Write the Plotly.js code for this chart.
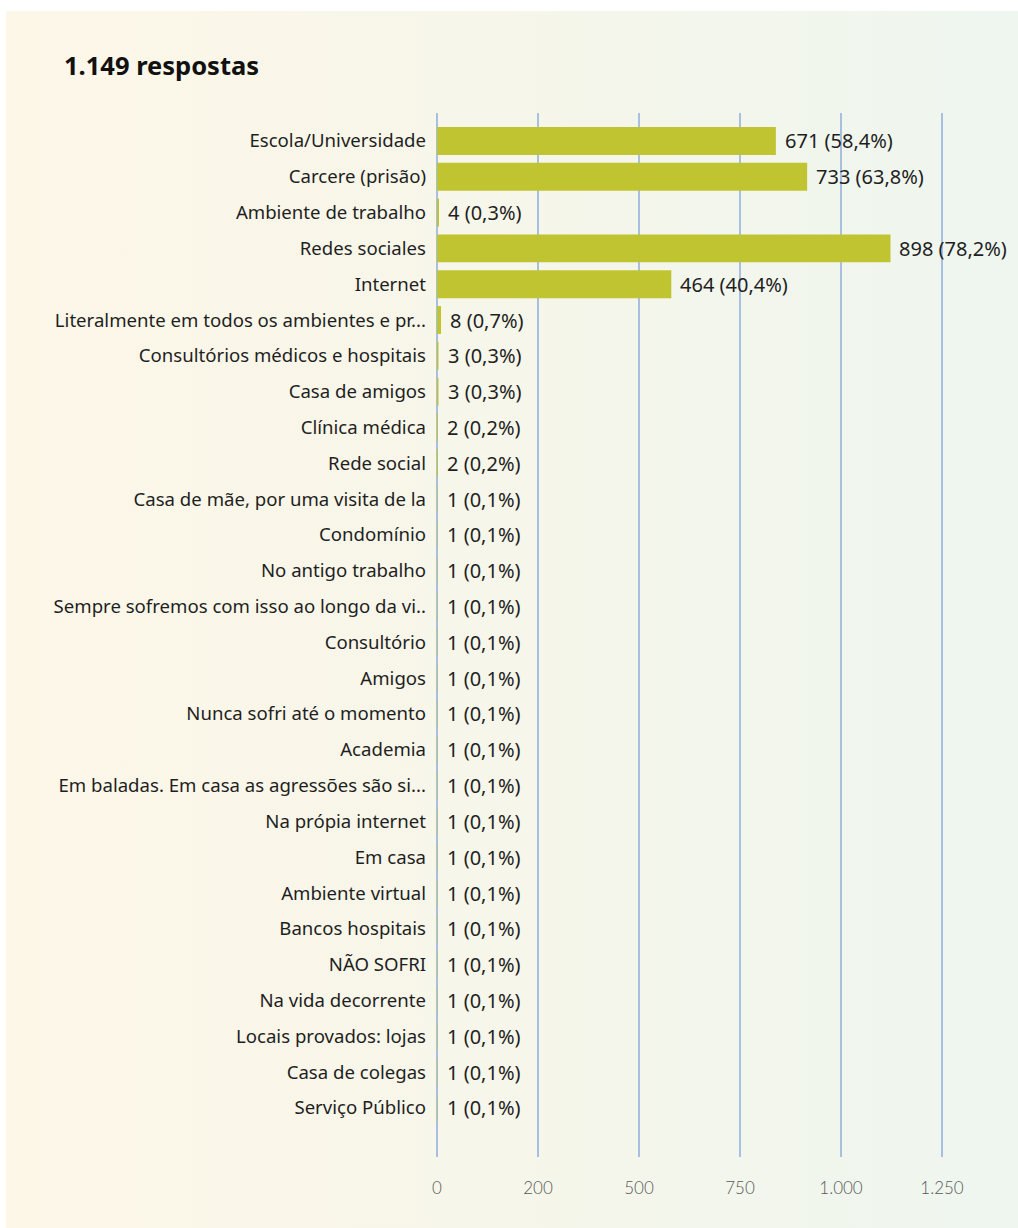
<!DOCTYPE html>
<html>
<head>
<meta charset="utf-8">
<script src="https://cdn.plot.ly/plotly-3.0.1.min.js"></script>
<style>
  html, body { margin: 0; padding: 0; background: #ffffff; }
  #wrap { position: relative; width: 1018px; height: 1228px; overflow: hidden; }
  #bg { position: absolute; left: 6px; top: 11px; right: 0; bottom: 0;
        background: linear-gradient(to right, #fdf7e8 0%, #f6f6ea 50%, #eef6ef 100%); }
  #chart { position: absolute; left: 0; top: 0; width: 1018px; height: 1228px; }
</style>
</head>
<body>
<div id="wrap"><div id="bg"></div><div id="chart"></div></div>
<script>
const categories = [
  "Escola/Universidade",
  "Carcere (prisão)",
  "Ambiente de trabalho",
  "Redes sociales",
  "Internet",
  "Literalmente em todos os ambientes e pr...",
  "Consultórios médicos e hospitais",
  "Casa de amigos",
  "Clínica médica",
  "Rede social",
  "Casa de mãe, por uma visita de la",
  "Condomínio",
  "No antigo trabalho",
  "Sempre sofremos com isso ao longo da vi..",
  "Consultório",
  "Amigos",
  "Nunca sofri até o momento",
  "Academia",
  "Em baladas. Em casa as agressões são si...",
  "Na própia internet",
  "Em casa",
  "Ambiente virtual",
  "Bancos hospitais",
  "NÃO SOFRI",
  "Na vida decorrente",
  "Locais provados: lojas",
  "Casa de colegas",
  "Serviço Público"
];
const counts = [671, 733, 4, 898, 464, 8, 3, 3, 2, 2, 1, 1, 1, 1, 1, 1, 1, 1, 1, 1, 1, 1, 1, 1, 1, 1, 1, 1];
const percents = ["58,4", "63,8", "0,3", "78,2", "40,4", "0,7", "0,3", "0,3", "0,2", "0,2",
  "0,1", "0,1", "0,1", "0,1", "0,1", "0,1", "0,1", "0,1", "0,1", "0,1", "0,1", "0,1", "0,1", "0,1", "0,1", "0,1", "0,1", "0,1"];
const tickValues = [0, 200, 400, 600, 800, 1000];
const tickLabels = ["0", "200", "500", "750", "1.000", "1.250"];
const titleText = "1.149 respostas";

const catFont = { family: "Noto Sans, sans-serif", size: 18.6, color: "#1f1f1f" };
const valFont = { family: "Noto Sans, sans-serif", size: 20, color: "#1f1f1f" };

const annotations = categories.map((c, i) => ({
  x: counts[i], y: c, xref: "x", yref: "y",
  text: counts[i] + " (" + percents[i] + "%)",
  showarrow: false, xanchor: "left", yanchor: "middle",
  xshift: 7, font: valFont
}));

const n = categories.length;
const trace = {
  type: "bar", orientation: "h",
  x: counts, y: categories,
  marker: { color: "#c0c431" },
  hoverinfo: "skip"
};

const layout = {
  width: 1018, height: 1228,
  paper_bgcolor: "rgba(0,0,0,0)",
  plot_bgcolor: "rgba(0,0,0,0)",
  margin: { l: 437, r: 18, t: 113, b: 71 },
  bargap: 0.22,
  showlegend: false,
  title: {
    text: "<b>" + titleText + "</b>",
    xref: "container", yref: "container",
    x: 64 / 1018, xanchor: "left",
    y: 1 - 66 / 1228, yanchor: "middle",
    font: { family: "Noto Sans, sans-serif", size: 25.5, color: "#111111" }
  },
  xaxis: {
    range: [0, 1114.85],
    tickvals: tickValues, ticktext: tickLabels,
    showgrid: true, gridcolor: "#a9bfe2", gridwidth: 1.5,
    zeroline: true, zerolinecolor: "#a9bfe2", zerolinewidth: 1.5,
    showline: false, ticks: "",
    ticklabelstandoff: 19,
    tickfont: { family: "Lato, sans-serif", size: 17, color: "#5a5a5a", weight: 300 },
    fixedrange: true
  },
  yaxis: {
    type: "category",
    categoryorder: "array", categoryarray: categories,
    range: [n - 1 + 1.37, -0.78],
    showgrid: false, zeroline: false, showline: false, ticks: "",
    ticklabelstandoff: 10,
    tickfont: catFont,
    fixedrange: true
  },
  annotations: annotations
};

Plotly.newPlot("chart", [trace], layout, { displayModeBar: false, staticPlot: true });
</script>
</body>
</html>
